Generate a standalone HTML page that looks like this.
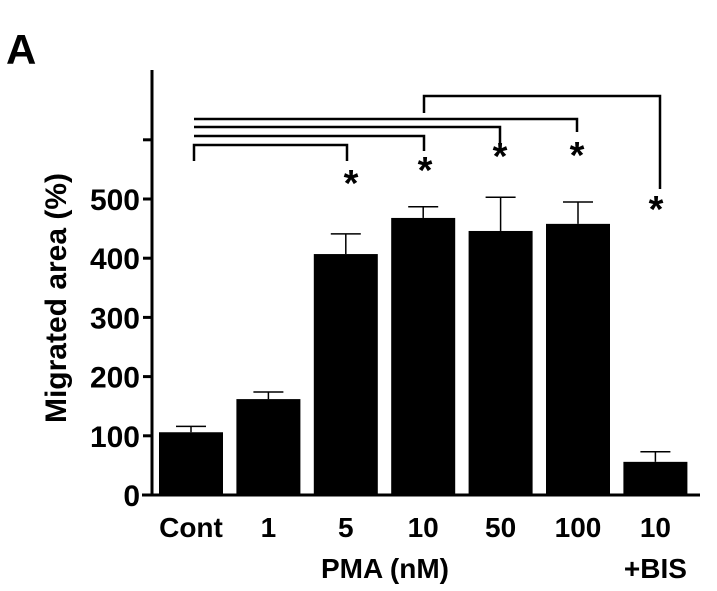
<!DOCTYPE html>
<html><head><meta charset="utf-8"><style>
body{margin:0;background:#fff}
svg{display:block;font-family:"Liberation Sans",Arial,sans-serif;font-weight:bold}
</style></head><body>
<svg id="chart" width="717" height="591" viewBox="0 0 717 591">
<text x="6" y="64" font-size="42">A</text>
<text transform="translate(66,298) rotate(-90)" text-anchor="middle" font-size="30">Migrated area (%)</text>
<g id="axes"></g><g id="bars"></g><g id="sig"></g>
<text x="385" y="578" text-anchor="middle" font-size="28">PMA (nM)</text>
</svg>
<script>
const categories=["Cont","1","5","10","50","100","10"];
const values=[106,162,407,468,446,458,56];
const errors=[10,12,34,19,57,37,17];
const yTicks=[0,100,200,300,400,500,600];
const yTickLabels=["0","100","200","300","400","500",""];
const NS="http://www.w3.org/2000/svg";
const y0=495,pxPer=0.592,x0=191,step=77.4,bw=64;
const ys=v=>y0-v*pxPer, xs=i=>x0+i*step;
function mk(t,a,p){const e=document.createElementNS(NS,t);for(const k in a)e.setAttribute(k,a[k]);p.appendChild(e);return e;}
const ax=document.getElementById('axes');
let l=mk('line',{x1:152,y1:70,x2:152,y2:496,stroke:'#000','stroke-width':3},ax);


l=mk('line',{x1:142,y1:495,x2:700,y2:495,stroke:'#000','stroke-width':3},ax);


yTicks.forEach((t,i)=>{
 const tk=mk('line',{x1:143,y1:ys(t),x2:152,y2:ys(t),stroke:'#000','stroke-width':3},ax);
 
 
 if(yTickLabels[i]){const tx=mk('text',{x:140,y:ys(t)+11,'text-anchor':'end','font-size':30},ax);tx.textContent=yTickLabels[i];
 
 }
});
const bg=document.getElementById('bars');
categories.forEach((c,i)=>{
 const cx=xs(i);
 const r=mk('rect',{x:cx-bw/2,y:ys(values[i]),width:bw,height:y0-ys(values[i]),fill:'#000'},bg);
 
 
 const et=ys(values[i]+errors[i]);
 const e1=mk('line',{x1:cx,y1:ys(values[i]),x2:cx,y2:et,stroke:'#000','stroke-width':1.5},bg);
 
 
 const e2=mk('line',{x1:cx-15,y1:et,x2:cx+15,y2:et,stroke:'#000','stroke-width':1.5},bg);
 
 
 const t=mk('text',{x:cx,y:537,'text-anchor':'middle','font-size':28},bg);t.textContent=c;
 
 
});
const t2=mk('text',{x:xs(6),y:578,'text-anchor':'middle','font-size':28},bg);t2.textContent="+BIS";


const sg=document.getElementById('sig');
function path(d,name){const p=mk('path',{d:d,fill:'none',stroke:'#000','stroke-width':2.5},sg);}
path('M194,161 V145 H347 V161','bracket-5');
path('M194,136 H424 V151','bracket-10');
path('M194,127 H500 V145','bracket-50');
path('M194,119 H577 V132','bracket-100');
path('M424,113 V96 H660 V189','bracket-bis');
[[351,196],[425,183],[500,169],[577,168],[656,222]].forEach(p=>{
 const s=mk('text',{x:p[0],y:p[1],'text-anchor':'middle','font-size':38},sg);s.textContent='*';
 
 
});
</script>
</body></html>
